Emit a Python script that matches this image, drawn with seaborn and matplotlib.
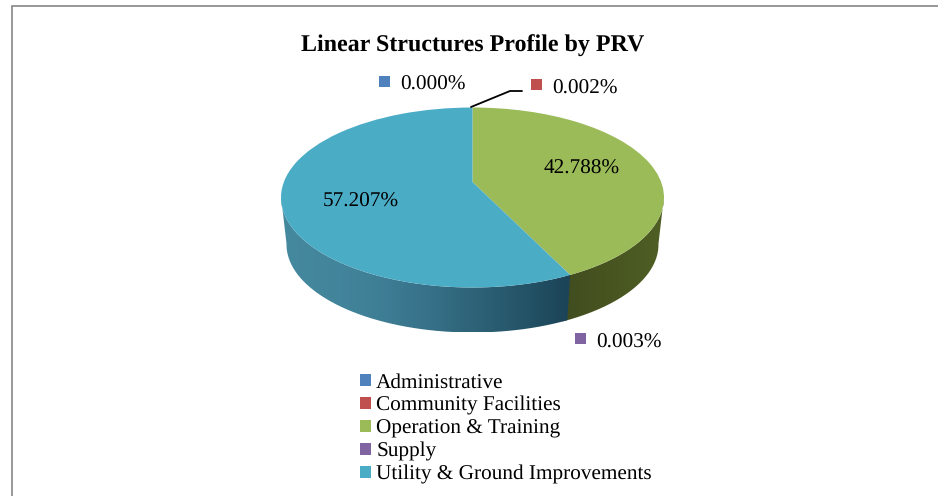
import numpy as np
import matplotlib
matplotlib.use("Agg")
import matplotlib.pyplot as plt
import seaborn as sns
from matplotlib.patches import Rectangle, PathPatch
from matplotlib.path import Path
from matplotlib.transforms import Transform
from matplotlib.colors import LinearSegmentedColormap

categories = ["Administrative", "Community Facilities", "Operation & Training", "Supply",
              "Utility & Ground Improvements"]
values = [0.000, 0.002, 42.788, 0.003, 57.207]
value_labels = ["0.000%", "0.002%", "42.788%", "0.003%", "57.207%"]
colors = ["#4F81BD", "#C0504D", "#9BBB59", "#8064A2", "#4BACC6"]
title = "Linear Structures Profile by PRV"

W, H = 938, 496
CX, CY, RX, RY = 472.5, 197.5, 191.5, 90.0   # ellipse of the pie top, pixels
K = 0.172                                    # perspective shift of the pie apex
DEPTH, SX, SY = 47 / 90, 186 / 191.5, 88 / 90  # wall bottom ellipse

sns.set_theme(style="white", palette=sns.color_palette(colors))
plt.rcParams["font.family"] = ["Liberation Serif", "DejaVu Serif"]
plt.rcParams["text.hinting"] = "no_hinting"
plt.rcParams["text.hinting_factor"] = 8


def persp(p):
    p = np.asarray(p, float)
    u, v = p[..., 0], p[..., 1]
    d = 1 + K * v
    return np.stack([np.sqrt(1 - K ** 2) * u / d, (v + K) / d], axis=-1)


class Persp(Transform):
    input_dims = output_dims = 2

    def transform_non_affine(self, values):
        return persp(values)


fig = plt.figure(figsize=(W / 100, H / 100), dpi=100, facecolor="white")
ax = fig.add_axes([0, 0, 1, 1])

wedges, _ = ax.pie(values, colors=sns.color_palette(colors), startangle=90, counterclock=False,
                   radius=1.0, wedgeprops=dict(linewidth=0, zorder=3))
ax.set_aspect("auto")
ax.set_xlim(-CX / RX, (W - CX) / RX)
ax.set_ylim((CY - H) / RY, CY / RY)
ax.axis("off")
tr = Persp() + ax.transData
for w in wedges:
    w.set_transform(tr)


def px(x, y):
    return (x - CX) / RX, (CY - y) / RY


# side wall: swept from each slice's own angle range (green first, blue laps over the seam)
wall_cmaps = {
    2: ["#3F4C1F", "#46521F", "#4A5822", "#4F5F24"],
    4: ["#45899F", "#43869C", "#3F7F96", "#37728A", "#2E6378", "#255468", "#1C4358"],
}
wall_dirs = {2: (px(570, 0)[0], 1.0), 4: (-1.0, px(570, 0)[0])}
for i, cols in wall_cmaps.items():
    w = wedges[i]
    t1 = w.theta1 - (1.5 if i == 2 else 0)
    th = np.radians(np.linspace(t1, w.theta2, 200))
    top = persp(np.column_stack([np.cos(th), np.sin(th)]))
    bot = top * [SX, SY] - [0, DEPTH]
    # keep only the part of the rim that faces the viewer
    m = top[:, 1] <= 0.02
    poly = np.vstack([top[m], bot[m][::-1]])
    clip = PathPatch(Path(poly, closed=False), transform=ax.transData, fc="none", ec="none")
    ax.add_patch(clip)
    x0, x1 = wall_dirs[i]
    cmap = LinearSegmentedColormap.from_list("wall", cols)
    ext0 = x0 - (0.05 if i == 2 else 0)
    im = ax.imshow(np.linspace(0, 1, 256)[None, :], cmap=cmap, aspect="auto", zorder=2,
                   extent=(ext0, x1, poly[:, 1].min(), poly[:, 1].max()))
    im.set_clip_path(clip)
ax.set_aspect("auto")
ax.set_xlim(-CX / RX, (W - CX) / RX)
ax.set_ylim((CY - H) / RY, CY / RY)

# frame: left and top edges only, the rest runs off the picture
ax.plot(*zip(px(12, 510), px(12, 6.5), px(945, 6.5)),
        color="#868686", lw=1.2, clip_on=False, zorder=1, solid_joinstyle="miter")

ax.text(*px(472.5, 46), title, ha="center", va="center", fontsize=17.3, fontweight="bold",
        color="black", zorder=5)

# data labels
label_pos = [(433, 84.5), (584.5, 88.5), (582, 168.5), (629, 342.5), (360.5, 201.5)]
for lab, (x, y) in zip(value_labels, label_pos):
    ax.text(*px(x, y), lab, ha="center", va="center", fontsize=15.3, color="black", zorder=5)
for i, (x, y) in {0: (379, 76), 1: (531, 79), 3: (575, 333)}.items():
    a, b = px(x, y)
    c, d = px(x + 11, y + 11)
    ax.add_patch(Rectangle((a, d), c - a, b - d, fc=colors[i], ec="none", zorder=5))

# leader line
ax.plot(*zip(px(471, 107), px(510, 91), px(522, 91)), color="black", lw=1.3, zorder=5,
        solid_joinstyle="miter")

handles = [Rectangle((0, 0), 1, 1, fc=c, ec="none") for c in colors]
ax.legend(handles, categories, loc="upper left", bbox_to_anchor=(360 / W, 1 - 373 / H),
          bbox_transform=fig.transFigure, frameon=False, fontsize=15.3, borderpad=0, borderaxespad=0,
          handlelength=0.52, handleheight=0.52, handletextpad=0.24, labelspacing=0.185, labelcolor="black")

fig.savefig("out.png", dpi=100, facecolor="white")
